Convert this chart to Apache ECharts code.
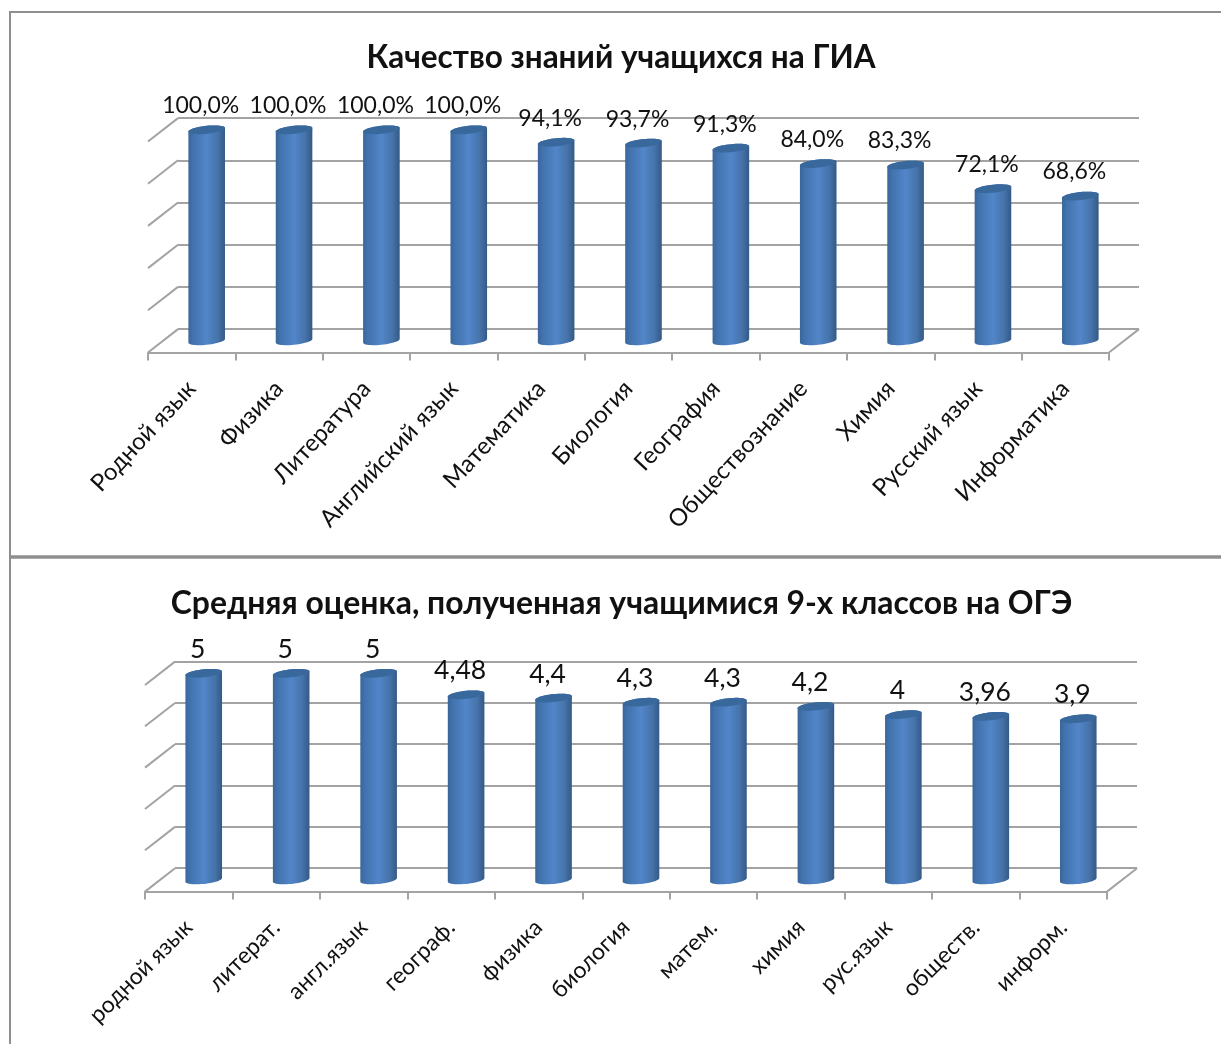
<!DOCTYPE html>
<html><head><meta charset="utf-8">
<style>html,body{margin:0;padding:0;background:#fff}#c{width:1221px;height:1044px}</style>
<script src="https://cdn.jsdelivr.net/npm/echarts@6/dist/echarts.min.js"></script>
</head><body><div id="c"></div>
<script>
const titleTop = 'Качество знаний учащихся на ГИА';
const categoriesTop = ['Родной язык','Физика','Литература','Английский язык','Математика','Биология','География','Обществознание','Химия','Русский язык','Информатика'];
const valuesTop = [100,100,100,100,94.1,93.7,91.3,84.0,83.3,72.1,68.6];
const titleBottom = 'Средняя оценка, полученная учащимися 9-х классов на ОГЭ';
const categoriesBottom = ['родной язык','литерат.','англ.язык','географ.','физика','биология','матем.','химия','рус.язык','обществ.','информ.'];
const valuesBottom = [5,5,5,4.48,4.4,4.3,4.3,4.2,4,3.96,3.9];

const FONT = 'Lato, "Open Sans", "Noto Sans", sans-serif';
const GRID = '#a3a3a3';
const DX = 30, DY = 23.4;

function barItem(fmt, size, ldx){
  return function(params, api){
    const i = api.value(0), v = api.value(1);
    const t = api.coord([i, v]), b = api.coord([i, 0]);
    const cx = t[0] + DX/2, yT = t[1] - DY/2, yB = b[1] - DY/2;
    const rx = 18.3, ry = 4, tilt = 0.1;
    const pt = (y, a) => [cx + rx*Math.cos(a), y + ry*Math.sin(a) - tilt*rx*Math.cos(a)];
    const body = [];
    for (let k = 0; k <= 24; k++) body.push(pt(yT, Math.PI + k*Math.PI/24 ));
    for (let k = 0; k <= 24; k++) body.push(pt(yB, k*Math.PI/24));
    const cap = [];
    for (let k = 0; k < 48; k++) cap.push(pt(yT, k*Math.PI/24));
    return {type:'group', children:[
      {type:'polygon', shape:{points:body}, style:{fill:new echarts.graphic.LinearGradient(0,0,1,0,[
        {offset:0,color:'#3a6699'},{offset:.12,color:'#4172ad'},{offset:.5,color:'#5286c9'},{offset:.8,color:'#4673aa'},{offset:1,color:'#345a86'}])}},
      {type:'polygon', shape:{points:cap}, style:{fill:'#38689c'}},
      {type:'text', style:{text:fmt(v), x:cx+ldx, y:yT-24, align:'center', verticalAlign:'middle', font:size+'px '+FONT, fill:'#111'}}
    ]};
  };
}
function wallItem(params, api){
  const v = api.value(0), p = api.coord([0, v]), cs = params.coordSys;
  const lines = [{type:'line', shape:{x1:cs.x, y1:p[1], x2:cs.x+DX, y2:p[1]-DY}, style:{stroke:GRID, lineWidth:2}}];
  if (v === 0) lines.push({type:'line', shape:{x1:cs.x+cs.width, y1:p[1], x2:cs.x+cs.width+DX, y2:p[1]-DY}, style:{stroke:GRID, lineWidth:2}});
  return {type:'group', children:lines};
}
function build(n, cats, vals, max, interval, g, fmt, labelSize, valueSize, ldx, rot){
  const ticks = [];
  for (let t = 0; t <= max; t += interval) ticks.push([t]);
  const base = n*2;
  return {
    grid:[
      {left:g.left+DX, top:g.top-DY, width:g.width, height:g.height},
      {left:g.left, top:g.top, width:g.width, height:g.height}
    ],
    xAxis:[
      {gridIndex:0, type:'category', data:cats, show:false},
      {gridIndex:1, type:'category', data:cats,
       axisLine:{lineStyle:{color:GRID,width:2}},
       axisTick:{show:true,length:8,lineStyle:{color:GRID,width:2}},
       axisLabel:{interval:0, rotate:rot, margin:g.margin, fontSize:labelSize, fontFamily:FONT, color:'#111'}}
    ],
    yAxis:[
      {gridIndex:0, type:'value', min:0, max:max, interval:interval, axisLine:{show:false}, axisTick:{show:false}, axisLabel:{show:false},
       splitLine:{show:true,lineStyle:{color:GRID,width:2}}},
      {gridIndex:1, type:'value', min:0, max:max, interval:interval, axisLine:{show:false}, axisTick:{show:false}, axisLabel:{show:false}, splitLine:{show:false}}
    ],
    series:[
      {type:'custom', xAxisIndex:base+1, yAxisIndex:base+1, data:ticks, renderItem:wallItem, clip:false, silent:true, z:1, encode:{y:0}},
      {type:'custom', xAxisIndex:base+1, yAxisIndex:base+1, data:vals.map((v,i)=>[i,v]), renderItem:barItem(fmt, valueSize, ldx), clip:false, silent:true, z:3, encode:{x:0,y:1}}
    ]
  };
}
const A = build(0, categoriesTop, valuesTop, 100, 20, {left:148,top:141.5,width:961,height:211,margin:32},
  v=>v.toFixed(1).replace('.',',')+'%', 24, 23, -6, 47);
const B = build(1, categoriesBottom, valuesBottom, 5, 1, {left:145,top:685,width:962,height:206.6,margin:32},
  v=>String(v).replace('.',','), 23, 26.5, -6, 45);

const frame = {stroke:'#8f8f8f', lineWidth:2};
const option = {
  animation:false, backgroundColor:'#fff',
  title:[
    {text:titleTop, left:616, top:53, textAlign:'center', textVerticalAlign:'middle', textStyle:{fontFamily:FONT,fontSize:31.5,fontWeight:'bold',color:'#111'}},
    {text:titleBottom, left:616.5, top:599, textAlign:'center', textVerticalAlign:'middle', textStyle:{fontFamily:FONT,fontSize:31.9,fontWeight:'bold',color:'#111'}}
  ],
  grid:[...A.grid,...B.grid], xAxis:[...A.xAxis,...B.xAxis.map(x=>({...x,gridIndex:x.gridIndex+2}))],
  yAxis:[...A.yAxis,...B.yAxis.map(y=>({...y,gridIndex:y.gridIndex+2}))],
  series:[...A.series,...B.series],
  graphic:[
    {type:'line', shape:{x1:10,y1:12,x2:1221,y2:12}, style:frame},
    {type:'line', shape:{x1:10,y1:11,x2:10,y2:1044}, style:frame},
    {type:'line', shape:{x1:10,y1:557,x2:1221,y2:557}, style:{stroke:'#8f8f8f',lineWidth:3.5}}
  ]
};
echarts.init(document.getElementById('c'),null,{renderer:'canvas'}).setOption(option);
</script></body></html>
